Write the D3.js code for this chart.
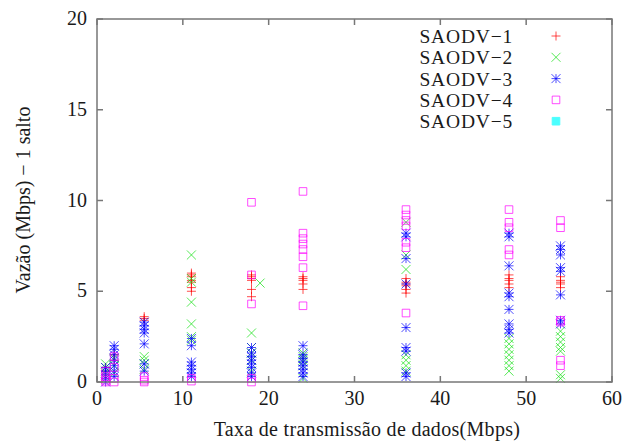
<!DOCTYPE html>
<html>
<head>
<meta charset="utf-8">
<script src="https://cdn.jsdelivr.net/npm/d3@7"></script>
<style>
body { margin: 0; background: #fff; }
text { font-family: "Liberation Serif", serif; fill: #1a1a1a; }
</style>
</head>
<body>
<script>
// valores: [taxa, vazao]
var saodv1 = [[1,0.6],[1,0.8],[2,1.5],[2,1.2],
  [5.5,3.6],[5.5,3.5],[5.5,3.4],
  [11,6.0],[11,5.9],[11,5.8],[11,5.6],[11,5.5],[11,5.2],[11,5.0],
  [18,5.9],[18,5.8],[18,5.7],[18,5.6],[18,5.1],[18,4.7],
  [24,5.8],[24,5.7],[24,5.6],[24,5.4],[24,5.1],
  [36,5.7],[36,5.5],[36,5.4],[36,5.3],[36,5.1],[36,4.9],
  [48,5.9],[48,5.7],[48,5.6],[48,5.4],[48,5.2],
  [54,5.8],[54,5.6],[54,5.5],[54,5.4],[54,5.2]];
var saodv2 = [[1,1.0],[1,0.8],[1,0.5],[1,0.3],
  [2,1.3],[2,0.9],[2,0.5],
  [5.5,1.4],[5.5,1.2],[5.5,1.0],[5.5,0.7],
  [11,7.0],[11,5.7],[11,5.5],[11,4.4],[11,3.2],[11,2.5],[11,2.3],
  [18,2.7],[18,1.9],[18,1.6],[18,1.2],[18,0.6],[19,5.45],
  [24,1.6],[24,1.4],[24,1.2],[24,0.9],[24,0.2],
  [36,8.8],[36,7.0],[36,6.2],[36,1.5],[36,1.2],[36,0.9],[36,0.6],
  [48,2.4],[48,2.1],[48,1.8],[48,1.5],[48,1.2],[48,0.9],[48,0.6],
  [54,2.8],[54,2.5],[54,2.2],[54,1.9],[54,1.7],[54,0.4],[54,0.2]];
var saodv3 = [[1,0.8],[1,0.6],[1,0.4],[1,0.2],[1,0],
  [2,2.0],[2,1.8],[2,1.5],[2,1.2],[2,0.9],[2,0.6],[2,0.3],
  [5.5,3.3],[5.5,3.1],[5.5,2.9],[5.5,2.7],[5.5,2.1],[5.5,1.0],[5.5,0.6],
  [11,2.4],[11,2.0],[11,1.1],[11,0.9],[11,0.7],[11,0.5],[11,0.3],
  [18,1.9],[18,1.6],[18,1.4],[18,1.2],[18,1.0],[18,0.8],[18,0.5],[18,0.3],
  [24,2.0],[24,1.5],[24,1.3],[24,1.1],[24,0.9],[24,0.7],[24,0.5],[24,0.3],
  [36,8.2],[36,8.0],[36,6.8],[36,5.4],[36,3.0],[36,1.9],[36,1.7],[36,0.5],[36,0.3],
  [48,8.2],[48,8.0],[48,6.4],[48,4.9],[48,4.7],[48,4.0],[48,3.2],[48,2.9],[48,2.7],
  [54,7.5],[54,7.3],[54,7.0],[54,6.3],[54,6.1],[54,4.8],[54,3.4],[54,3.2]];
var saodv4 = [[1,0.6],[1,0.3],[1,0.1],[1,0],
  [2,1.4],[2,0.8],[2,0.2],[2,0],
  [5.5,0.3],[5.5,0.1],[5.5,0],
  [11,0.2],[11,0.05],
  [18,9.9],[18,5.9],[18,4.3],[18,0.2],[18,0],
  [24,10.5],[24,8.2],[24,7.9],[24,7.6],[24,7.3],[24,6.9],[24,6.3],[24,4.2],
  [36,9.5],[36,9.2],[36,8.9],[36,8.6],[36,7.7],[36,7.4],[36,3.8],
  [48,9.5],[48,8.8],[48,8.5],[48,7.3],[48,7.0],
  [54,8.9],[54,8.5],[54,3.4],[54,3.3],[54,1.2],[54,0.9]];
var saodv5 = [];

var seriesNames = ["SAODV\u22121","SAODV\u22122","SAODV\u22123","SAODV\u22124","SAODV\u22125"];
var seriesData = [saodv1, saodv2, saodv3, saodv4, saodv5];
var colors = ["#ff0000","#10e010","#0000ff","#ff00ff","#00ffff"];
var shapes = ["plus","cross","star","box","fbox"];
var xTicks = [0,10,20,30,40,50,60];
var yTicks = [0,5,10,15,20];

var plotL = 97, plotR = 612, plotT = 19, plotB = 382;
var xScale = d3.scaleLinear().domain([0,60]).range([plotL,plotR]);
var yScale = d3.scaleLinear().domain([0,20]).range([plotB,plotT]);

var svg = d3.select("body").append("svg").attr("width",627).attr("height",448);

function marker(type, cx, cy) {
    var s = 4.5;
    if (type == "plus") return "M"+(cx-s)+","+cy+"h"+(2*s)+"M"+cx+","+(cy-s)+"v"+(2*s);
    if (type == "cross") return "M"+(cx-s)+","+(cy-s)+"l"+(2*s)+","+(2*s)+"M"+(cx-s)+","+(cy+s)+"l"+(2*s)+","+(-2*s);
    if (type == "star") return marker("plus",cx,cy)+marker("cross",cx,cy);
    s = 3.8;
    return "M"+(cx-s)+","+(cy-s)+"h"+(2*s)+"v"+(2*s)+"h"+(-2*s)+"Z";
}

// pontos
seriesData.forEach(function (data, i) {
    svg.append("g").selectAll("path").data(data).enter().append("path")
        .attr("d", function (d) { return marker(shapes[i], xScale(d[0]), yScale(d[1])); })
        .attr("fill", shapes[i] == "fbox" ? colors[i] : "none")
        .attr("stroke", colors[i])
        .attr("stroke-width", 1)
        .attr("opacity", 0.7);
});

// moldura e ticks
var frame = svg.append("g").attr("stroke","#777").attr("stroke-width",1.5).attr("fill","none");
frame.append("rect").attr("x",plotL).attr("y",plotT).attr("width",plotR-plotL).attr("height",plotB-plotT);
xTicks.forEach(function (t) {
    frame.append("path").attr("d","M"+xScale(t)+","+plotB+"v-6M"+xScale(t)+","+plotT+"v6");
});
yTicks.forEach(function (t) {
    frame.append("path").attr("d","M"+plotL+","+yScale(t)+"h6M"+plotR+","+yScale(t)+"h-6");
});

svg.append("g").selectAll("text").data(xTicks).enter().append("text")
    .attr("x", d => xScale(d)).attr("y", 405).attr("text-anchor","middle")
    .style("font-size","20px").text(d => d);
svg.append("g").selectAll("text").data(yTicks).enter().append("text")
    .attr("x", 87).attr("y", d => yScale(d)+6).attr("text-anchor","end")
    .style("font-size","20px").text(d => d);

svg.append("text").attr("x",367).attr("y",436).attr("text-anchor","middle")
    .style("font-size","20px").style("letter-spacing","0.3px").text("Taxa de transmiss\u00e3o de dados(Mbps)");
svg.append("text").attr("transform","translate(30,200) rotate(-90)").attr("text-anchor","middle")
    .style("font-size","20px").text("Vaz\u00e3o (Mbps) \u2212 1 salto");

// legenda
seriesNames.forEach(function (n, i) {
    var ly = 37 + i*21.3;
    svg.append("text").attr("x",513).attr("y",ly+6).attr("text-anchor","end")
        .style("font-size","19.5px").style("letter-spacing","0.8px").text(n);
    svg.append("path").attr("d", marker(shapes[i], 556, ly-1))
        .attr("fill", shapes[i] == "fbox" ? colors[i] : "none")
        .attr("stroke", colors[i]).attr("stroke-width",1).attr("opacity",0.7);
});
</script>
</body>
</html>
